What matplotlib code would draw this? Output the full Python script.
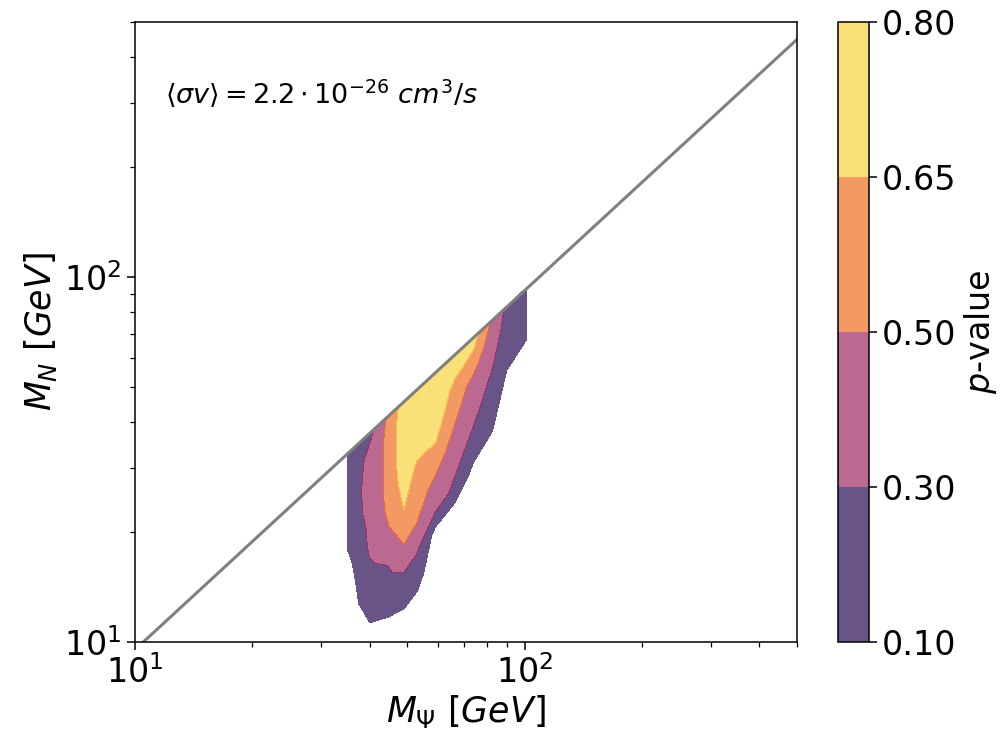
import numpy as np
import matplotlib
matplotlib.use('Agg')
import matplotlib.pyplot as plt
from matplotlib.ticker import NullFormatter

# ----------- DATA ------------
# scan grid: M_Psi columns, ratio M_N / M_Psi rows (top row first)
mpsi = [35, 40, 44.5, 49, 53, 59, 66, 74, 82, 90, 101]
ratio = [0.925, 0.88, 0.82, 0.76, 0.70, 0.64, 0.58, 0.52, 0.46, 0.40, 0.34, 0.28, 0.22]

# p-values, one row per ratio value
pvalue = [
    [0.20, 0.24, 0.525, 0.72, 0.76, 0.77, 0.72, 0.72, 0.49, 0.255, 0.20],
    [0.20, 0.295, 0.54, 0.73, 0.77, 0.78, 0.71, 0.67, 0.46, 0.24, 0.19],
    [0.21, 0.33, 0.55, 0.74, 0.77, 0.78, 0.68, 0.62, 0.42, 0.22, 0.17],
    [0.21, 0.34, 0.555, 0.74, 0.76, 0.77, 0.612, 0.54, 0.37, 0.19, 0.15],
    [0.21, 0.35, 0.555, 0.74, 0.73, 0.73, 0.58, 0.445, 0.33, 0.16, 0.13],
    [0.21, 0.35, 0.555, 0.73, 0.69, 0.69, 0.54, 0.40, 0.276, 0.12, 0.076],
    [0.20, 0.345, 0.55, 0.71, 0.636, 0.637, 0.489, 0.35, 0.23, 0.066, 0.03],
    [0.105, 0.34, 0.53, 0.68, 0.60, 0.56, 0.42, 0.2875, 0.17, 0.02, 0.0],
    [0.04, 0.33, 0.485, 0.644, 0.56, 0.457, 0.35, 0.20, 0.11, 0.0, 0.0],
    [0.0, 0.28, 0.36, 0.55, 0.496, 0.386, 0.26, 0.044, 0.0, 0.0, 0.0],
    [0.0, 0.20, 0.26, 0.417, 0.33, 0.041, 0.0, 0.0, 0.0, 0.0, 0.0],
    [0.0, 0.095, 0.14, 0.12, 0.15, 0.0, 0.0, 0.0, 0.0, 0.0, 0.0],
    [0.0, 0.0, 0.0, 0.078, 0.0, 0.0, 0.0, 0.0, 0.0, 0.0, 0.0],
]

levels = [0.10, 0.30, 0.50, 0.65, 0.80]

# kinematic boundary line
line_mpsi = [10.5, 500]
line_mn = [10, 448]
# -------------------------------

plt.rcParams['font.size'] = 24
plt.rcParams['xtick.major.size'] = 6
plt.rcParams['ytick.major.size'] = 6
plt.rcParams['xtick.minor.size'] = 3.5
plt.rcParams['ytick.minor.size'] = 3.5
plt.rcParams['xtick.major.width'] = 1.1
plt.rcParams['ytick.major.width'] = 1.1
plt.rcParams['xtick.minor.width'] = 0.9
plt.rcParams['ytick.minor.width'] = 0.9
plt.rcParams['axes.linewidth'] = 1.1

X, R = np.meshgrid(mpsi, ratio)
Y = X * R
Z = np.array(pvalue)

fig = plt.figure(figsize=(10.07, 7.33), dpi=100)
ax = fig.add_axes([0.1341, 0.1241, 0.6574, 0.8459])
cax = fig.add_axes([0.8317, 0.1241, 0.0308, 0.8459])

cs = ax.contourf(X, Y, Z, levels=levels, cmap='inferno', alpha=0.7)
ax.plot(line_mpsi, line_mn, color='grey', lw=2.2)

ax.set_xscale('log')
ax.set_yscale('log')
ax.set_xlim(10, 500)
ax.set_ylim(10, 500)
ax.xaxis.set_minor_formatter(NullFormatter())
ax.yaxis.set_minor_formatter(NullFormatter())

ax.set_xlabel(r'$M_\Psi\ [GeV]$', fontsize=25, labelpad=2)
ax.set_ylabel(r'$M_N\ [GeV]$', fontsize=25)
ax.text(0.045, 0.885, r'$\langle\sigma v\rangle = 2.2\cdot 10^{-26}\ cm^3/s$',
        transform=ax.transAxes, fontsize=19.5, va='center')

cbar = fig.colorbar(cs, cax=cax)
cbar.set_label(r'$p$-value', fontsize=24)
cbar.outline.set_linewidth(1.1)

fig.savefig('out.png', dpi=100)
